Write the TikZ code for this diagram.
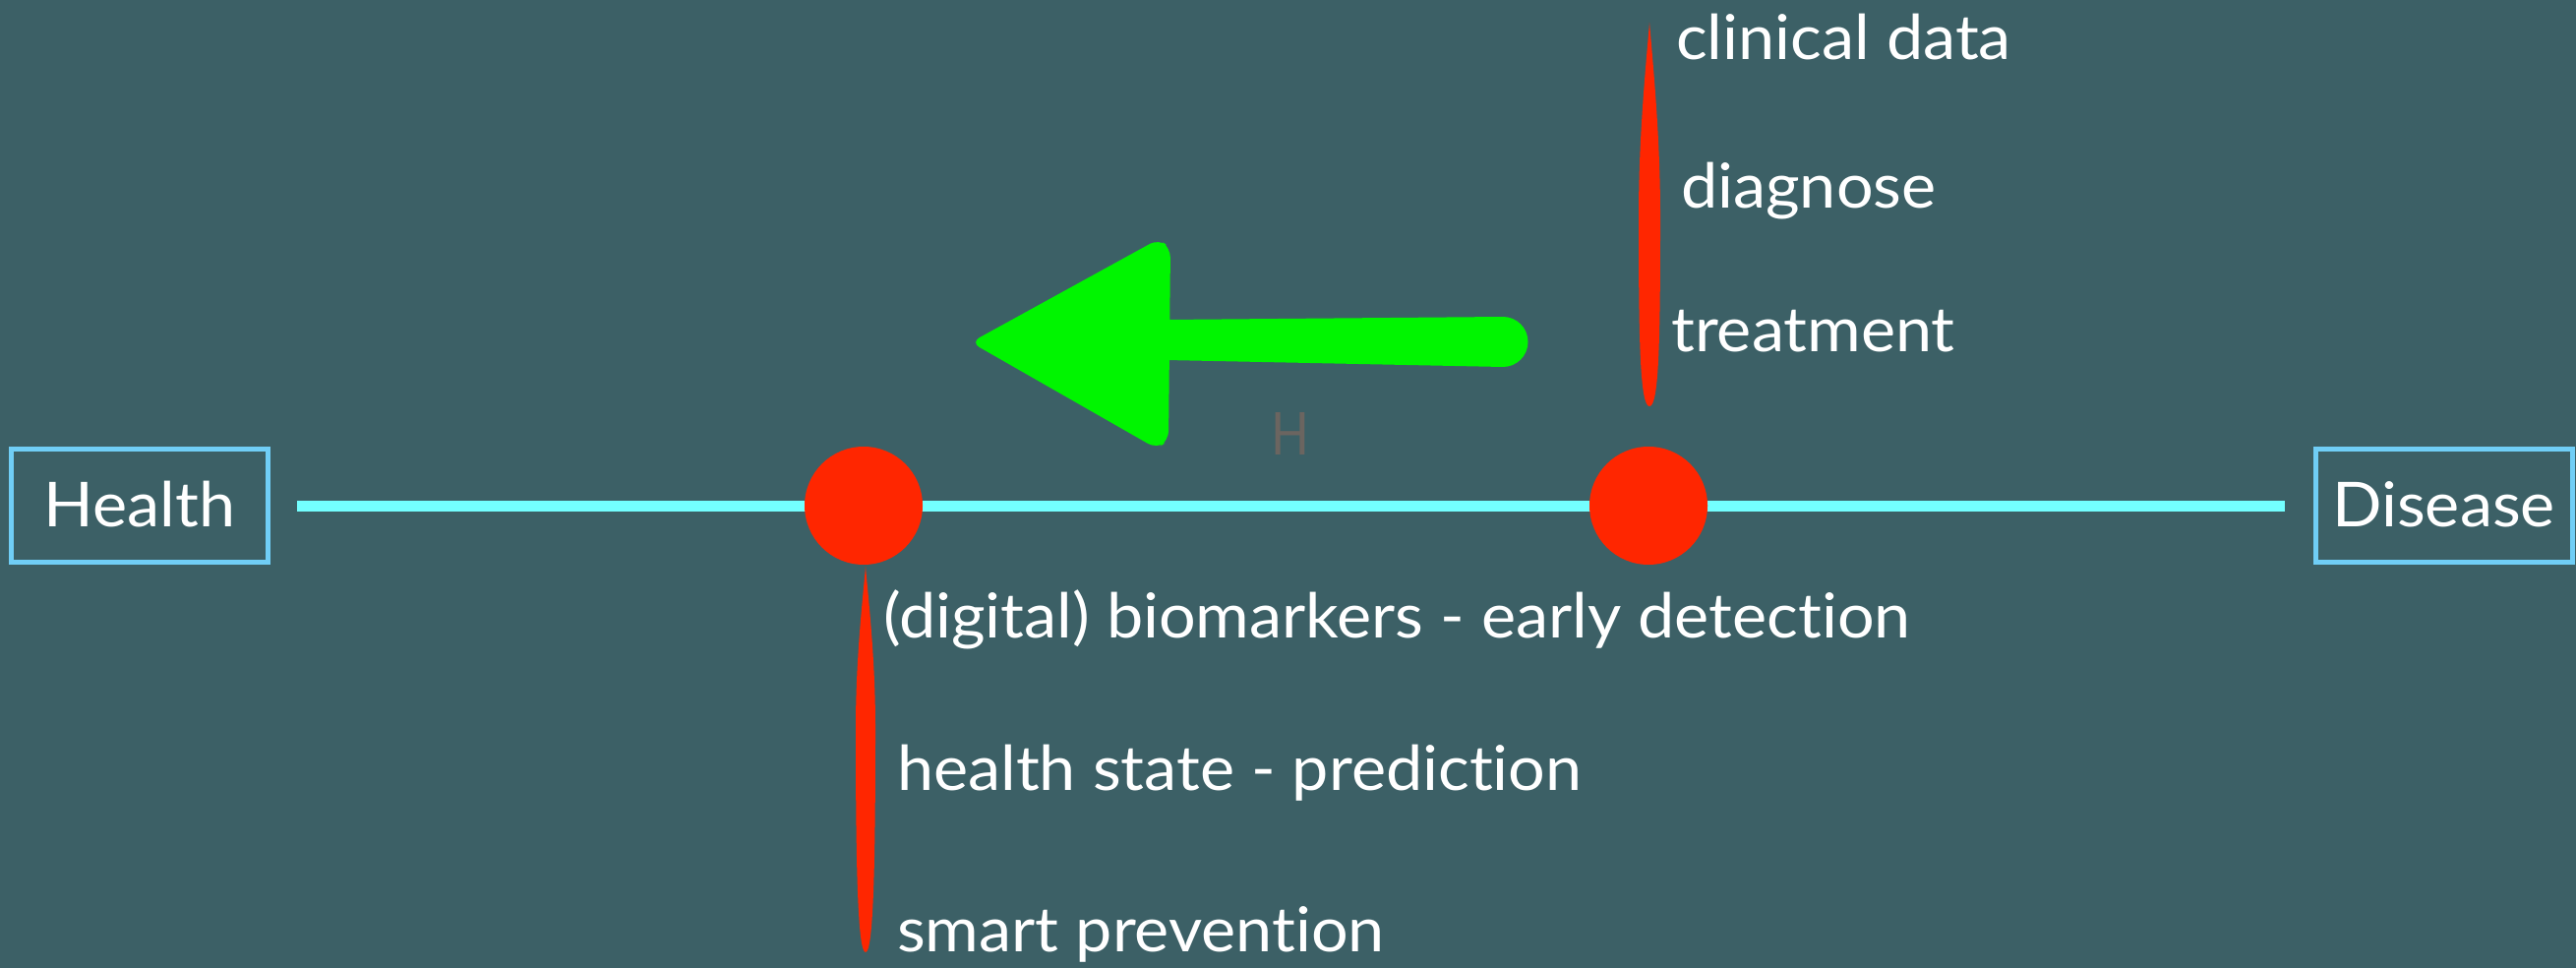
\documentclass[tikz,border=0pt]{standalone}
\usepackage{fontspec}
\setmainfont{Lato}[Ligatures=NoCommon, FakeStretch=1.055]
\definecolor{bgc}{HTML}{3C6066}
\definecolor{axisc}{HTML}{73FFFF}
\definecolor{boxc}{HTML}{70CEF6}
\definecolor{dotc}{HTML}{FF2600}
\definecolor{arrowc}{HTML}{00F500}
\definecolor{hc}{HTML}{6B6560}
\tikzset{
  endbox/.style={draw=boxc, line width=5pt, inner sep=0pt, minimum width=261pt, minimum height=115pt,
    text=white, font=\fontsize{63}{75}\selectfont, text height=42pt, text depth=0pt},
  reddot/.style={circle, fill=dotc, inner sep=0pt, minimum size=120pt},
  lbl/.style={anchor=base west, inner sep=0pt, text=white, font=\fontsize{63}{75}\selectfont},
  axisline/.style={draw=axisc, line width=11pt}
}
\begin{document}
\begin{tikzpicture}[x=1pt,y=-1pt]
\useasboundingbox (0,0) rectangle (2619,984);
\fill[bgc] (0,0) rectangle (2619,984);

% end boxes
\node[endbox] (health) at (142,514) {Health};
\node[endbox] (disease) at (2484.5,514) {Disease};

% axis
\draw[axisline, shorten <=27pt, shorten >=29pt] (health.east) -- (disease.west);

% dots
\node[reddot] (early) at (878,514) {};
\node[reddot] (late) at (1676,514) {};

% brush strokes
\coordinate (lowtop) at (880,576);
\coordinate (lowbot) at (880,968);
\fill[dotc] (lowtop) .. controls (883,610) and (890,670) .. (890,740)
  .. controls (890,880) and (888,968) .. (lowbot)
  .. controls (872,968) and (870,880) .. (870,740)
  .. controls (870,670) and (877,610) .. (lowtop) -- cycle;
\coordinate (uptop) at (1677,23);
\coordinate (upbot) at (1677,413);
\fill[dotc] (uptop) .. controls (1681,70) and (1688,140) .. (1688,220)
  .. controls (1688,340) and (1687,413) .. (upbot)
  .. controls (1667,413) and (1666,340) .. (1666,220)
  .. controls (1666,140) and (1673,70) .. (uptop) -- cycle;

% green arrow
\fill[arrowc, rounded corners=10pt] (987,348) -- (1178,243) -- (1190,252) -- (1188,448) -- (1176,456) -- cycle;
\fill[arrowc] (1185,325) -- (1528,322) arc[start angle=90, end angle=-90, radius=25.5pt] -- (1185,366) -- cycle;

% faint H
\node[anchor=base west, inner sep=0pt, text=hc, font=\fontsize{60}{70}\selectfont\addfontfeatures{FakeStretch=0.85}] (hmark) at (1292,462) {H};

% labels
\node[lbl] (clin) at (1704,61) {clinical data};
\node[lbl] (diag) at (1709,212) {diagnose};
\node[lbl] (treat) at (1699,358) {treatment};
\node[lbl] (bio) at (898,648) {(digital) biomarkers - early detection};
\node[lbl] (pred) at (912,803) {health state - prediction};
\node[lbl] (prev) at (912,967) {smart prevention};
\end{tikzpicture}
\end{document}
